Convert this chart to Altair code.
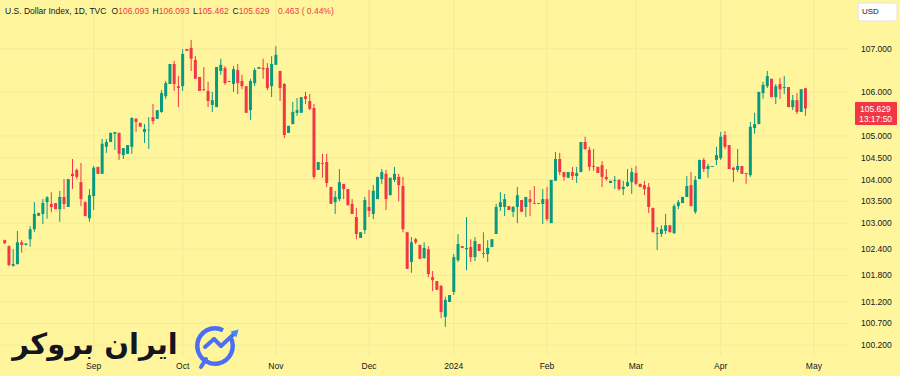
import altair as alt
import pandas as pd

# Daily OHLC of the U.S. Dollar Index, first value is the partly hidden bar at the left edge
opens = [102.61,
 102.47, 102.02, 102.06, 102.56, 102.50, 102.63, 102.86, 103.17, 103.21, 103.48,
 103.44, 103.46, 103.32, 103.60, 103.37, 104.13, 104.22, 103.94, 103.48, 103.11,
 103.62, 104.29, 104.13, 104.75, 104.86, 105.05, 105.07, 104.56, 104.59, 104.75,
 105.39, 105.30, 105.09, 105.13, 105.43, 105.39, 105.55, 105.91, 106.19, 106.65,
 106.14, 106.14, 106.99, 107.02, 106.74, 106.35, 106.07, 106.03, 105.71, 105.66,
 106.49, 106.56, 106.26, 106.19, 106.51, 106.26, 106.14, 105.59, 106.21, 106.54,
 106.56, 106.56, 106.14, 106.63, 106.49, 106.19, 105.07, 105.27, 105.53, 105.53,
 105.91, 105.80, 105.64, 104.22, 104.38, 104.40, 103.83, 103.48, 103.55, 103.90,
 103.78, 103.44, 103.14, 102.66, 102.84, 103.37, 103.21, 103.55, 104.01, 104.13,
 103.64, 103.99, 104.06, 103.85, 102.79, 102.11, 102.63, 102.50, 102.20, 102.40,
 101.76, 101.67, 101.56, 100.85, 101.19, 101.42, 102.15, 102.47, 102.40, 102.45,
 102.22, 102.52, 102.31, 102.29, 102.45, 102.75, 103.37, 103.37, 103.39, 103.26,
 103.37, 103.53, 103.37, 103.55, 103.46, 103.46, 103.44, 103.55, 103.00, 103.97,
 104.47, 104.17, 104.04, 104.17, 104.08, 104.17, 104.86, 104.68, 104.31, 104.29,
 104.33, 104.06, 103.92, 103.97, 103.99, 103.78, 103.85, 103.94, 104.15, 103.90,
 103.87, 103.83, 103.35, 102.75, 102.75, 102.82, 102.95, 102.77, 103.39, 103.46,
 103.60, 103.87, 103.26, 104.01, 104.45, 104.24, 104.29, 104.45, 104.49, 105.02,
 104.79, 104.27, 104.22, 104.31, 104.15, 104.10, 105.18, 105.27, 105.98, 106.14,
 106.31, 105.89, 106.19, 106.10, 106.12, 105.66, 105.82, 105.55, 106.093]

highs = [102.62,
 102.49, 102.40, 102.82, 102.61, 102.54, 102.93, 103.48, 103.24, 103.55, 103.62,
 103.71, 103.46, 103.74, 104.01, 104.01, 104.47, 104.25, 104.38, 103.50, 103.78,
 104.31, 104.29, 104.93, 104.93, 105.07, 105.09, 105.07, 104.72, 104.79, 105.43,
 105.41, 105.30, 105.27, 105.43, 105.73, 105.59, 106.05, 106.26, 106.65, 106.72,
 106.37, 106.99, 106.99, 107.20, 106.83, 106.35, 106.58, 106.24, 106.01, 106.58,
 106.77, 106.60, 106.26, 106.60, 106.65, 106.40, 106.14, 106.31, 106.56, 106.58,
 106.77, 106.67, 106.83, 107.06, 106.49, 106.21, 105.23, 105.78, 105.87, 105.89,
 106.01, 105.96, 105.73, 104.40, 104.59, 104.59, 103.83, 103.74, 104.24, 103.90,
 103.78, 103.55, 103.35, 102.79, 103.60, 103.76, 103.87, 104.06, 104.24, 104.22,
 104.04, 104.29, 104.13, 104.06, 102.79, 102.68, 102.66, 102.50, 102.56, 102.47,
 101.90, 101.67, 101.58, 101.31, 101.35, 102.29, 102.75, 102.47, 103.14, 102.63,
 102.68, 102.52, 102.79, 102.61, 102.63, 103.44, 103.71, 103.67, 103.39, 103.39,
 103.83, 103.53, 103.60, 103.76, 103.85, 103.46, 103.78, 103.83, 103.99, 104.63,
 104.61, 104.17, 104.17, 104.29, 104.29, 104.86, 104.98, 104.75, 104.70, 104.29,
 104.42, 104.24, 103.97, 104.08, 104.01, 103.97, 104.24, 104.27, 104.31, 103.90,
 103.97, 103.92, 103.35, 102.91, 102.95, 103.21, 102.95, 103.44, 103.53, 103.60,
 104.08, 104.17, 104.08, 104.45, 104.49, 104.36, 104.31, 104.75, 105.09, 105.11,
 104.79, 104.29, 104.70, 104.31, 104.15, 105.32, 105.53, 106.01, 106.24, 106.49,
 106.31, 106.19, 106.33, 106.37, 106.12, 105.94, 105.98, 106.07, 106.093]

lows = [102.52,
 102.01, 102.00, 102.05, 102.32, 102.49, 102.46, 102.80, 103.16, 102.98, 103.10,
 103.25, 103.32, 103.03, 103.32, 103.37, 103.78, 104.01, 103.39, 103.16, 103.03,
 103.30, 104.13, 104.13, 104.61, 104.86, 104.68, 104.45, 104.47, 104.59, 104.59,
 105.09, 105.21, 104.84, 104.70, 105.27, 105.39, 105.53, 105.85, 106.19, 106.03,
 105.66, 106.03, 106.95, 106.49, 106.31, 106.03, 106.03, 105.66, 105.55, 105.66,
 106.40, 106.17, 106.24, 106.01, 105.96, 106.07, 105.53, 105.37, 106.14, 106.54,
 106.31, 106.05, 105.89, 106.63, 105.80, 104.95, 105.07, 105.27, 105.46, 105.53,
 105.73, 105.59, 104.01, 104.22, 104.04, 103.83, 103.44, 103.21, 103.50, 103.55,
 103.41, 103.21, 102.63, 102.66, 102.75, 103.14, 103.09, 103.55, 103.90, 103.30,
 103.64, 103.94, 103.50, 102.79, 101.95, 101.86, 102.52, 102.18, 102.18, 101.76,
 101.44, 101.47, 100.82, 100.62, 101.19, 101.35, 102.11, 102.43, 101.92, 102.11,
 102.13, 102.36, 102.20, 102.11, 102.45, 102.75, 103.28, 103.16, 103.30, 103.14,
 103.00, 103.26, 103.14, 103.16, 103.44, 103.44, 102.98, 103.05, 103.00, 103.97,
 104.10, 103.97, 104.04, 103.99, 103.92, 104.17, 104.68, 104.20, 104.20, 104.15,
 103.83, 103.97, 103.92, 103.78, 103.74, 103.64, 103.83, 103.67, 103.87, 103.83,
 103.64, 103.23, 102.79, 102.38, 102.68, 102.75, 102.79, 102.75, 103.32, 103.46,
 103.60, 103.39, 103.21, 104.01, 104.17, 104.04, 104.29, 104.33, 104.45, 104.70,
 104.24, 103.94, 104.17, 104.13, 103.90, 104.06, 105.05, 105.27, 105.85, 106.10,
 105.89, 105.73, 105.85, 105.96, 105.66, 105.59, 105.50, 105.55, 105.462]

closes = [102.54,
 102.04, 102.06, 102.56, 102.50, 102.53, 102.86, 103.21, 103.23, 103.46, 103.59,
 103.37, 103.32, 103.60, 103.44, 104.01, 104.08, 104.06, 103.55, 103.16, 103.64,
 104.27, 104.13, 104.82, 104.86, 105.07, 105.09, 104.59, 104.72, 104.79, 105.41,
 105.32, 105.21, 105.16, 105.14, 105.34, 105.59, 105.98, 106.21, 106.65, 106.19,
 106.10, 106.88, 106.95, 106.77, 106.31, 106.03, 106.05, 105.80, 105.82, 106.58,
 106.63, 106.21, 106.24, 106.53, 106.21, 106.14, 105.53, 106.26, 106.51, 106.58,
 106.53, 106.10, 106.65, 106.86, 106.10, 105.02, 105.23, 105.55, 105.59, 105.89,
 105.85, 105.62, 104.06, 104.40, 104.36, 103.92, 103.44, 103.60, 103.94, 103.78,
 103.41, 103.21, 102.75, 102.79, 103.53, 103.28, 103.74, 104.06, 104.17, 103.55,
 104.04, 104.13, 103.87, 102.86, 101.95, 102.56, 102.56, 102.18, 102.43, 101.83,
 101.69, 101.47, 100.96, 101.24, 101.35, 102.22, 102.52, 102.43, 102.43, 102.22,
 102.59, 102.36, 102.29, 102.43, 102.63, 103.37, 103.48, 103.55, 103.30, 103.37,
 103.64, 103.26, 103.60, 103.48, 103.44, 103.44, 103.55, 103.09, 103.99, 104.47,
 104.17, 104.06, 104.17, 104.08, 104.15, 104.86, 104.70, 104.29, 104.29, 104.15,
 104.06, 104.01, 103.97, 103.99, 103.78, 103.83, 103.94, 104.17, 103.90, 103.83,
 103.78, 103.37, 102.79, 102.77, 102.86, 102.95, 102.79, 103.39, 103.48, 103.60,
 103.85, 103.39, 103.99, 104.45, 104.24, 104.31, 104.31, 104.56, 104.98, 104.75,
 104.24, 104.22, 104.31, 104.13, 104.13, 105.21, 105.27, 106.01, 106.17, 106.37,
 105.89, 106.14, 106.07, 106.12, 105.66, 105.82, 105.55, 106.07, 105.629]

# Month tick positions (bar number of the first trading day of each month) and their labels
month_ticks = [20, 41, 63, 85, 105, 127, 148, 168, 190]
month_labels = ["Sep", "Oct", "Nov", "Dec", "2024", "Feb", "Mar", "Apr", "May"]
price_ticks = [107.0, 106.0, 105.0, 104.5, 104.0, 103.5, 103.0, 102.4, 101.8, 101.2, 100.7, 100.2]

# Header legend
title_text = "U.S. Dollar Index, 1D, TVC"
ohlc_letters = ["O", "H", "L", "C"]
ohlc_values = ["106.093", "106.093", "105.462", "105.629"]
change_text = "0.463 ( 0.44%)"
last_price = "105.629"
countdown = "13:17:50"
currency = "USD"
brand = "ایران بروکر"

UP = "#089981"
DOWN = "#F23645"
BG = "#FFF59D"
GRID = "#F5EB96"
TXT = "#131722"
FONT = "Liberation Sans"

n = len(opens)
df = pd.DataFrame({
    "i": list(range(-1, n - 1)),
    "open": opens, "high": highs, "low": lows, "close": closes,
})
df["dir"] = ["up" if c >= o else "down" for o, c in zip(opens, closes)]
months = pd.DataFrame({"t": month_ticks, "label": month_labels})
prices = pd.DataFrame({"p": price_ticks})

W, H = 850, 356
xscale = alt.Scale(domain=[-0.933, 197.34], nice=False, zero=False)
yscale = alt.Scale(domain=[99.952, 108.117], nice=False, zero=False)
color = alt.Color("dir:N", scale=alt.Scale(domain=["up", "down"], range=[UP, DOWN]), legend=None)

# faint grid
vgrid = alt.Chart(months).mark_rule(color=GRID, strokeWidth=1).encode(
    x=alt.X("t:Q", scale=xscale, axis=None), y=alt.value(0), y2=alt.value(H))
hgrid = alt.Chart(prices).mark_rule(color=GRID, strokeWidth=1).encode(
    y=alt.Y("p:Q", scale=yscale, axis=None), x=alt.value(0), x2=alt.value(W))

base = alt.Chart(df)
wicks = base.mark_rule(strokeWidth=1).encode(
    x=alt.X("i:Q", scale=xscale, axis=None),
    y=alt.Y("low:Q", scale=yscale, axis=None),
    y2="high:Q",
    color=color,
)
bodies = base.mark_bar(size=3).encode(
    x=alt.X("i:Q", scale=xscale, axis=None),
    y=alt.Y("open:Q", scale=yscale, axis=None),
    y2="close:Q",
    color=color,
)

# axis labels
month_text = alt.Chart(months).mark_text(font=FONT, fontSize=8.5, color=TXT, baseline="middle", align="center").encode(
    x=alt.X("t:Q", scale=xscale, axis=None), y=alt.value(366), text="label:N")
price_text = alt.Chart(prices).mark_text(font=FONT, fontSize=8.5, color=TXT, baseline="middle", align="left").encode(
    y=alt.Y("p:Q", scale=yscale, axis=None), x=alt.value(861), text=alt.Text("p:Q", format=".3f"))

one = alt.Data(values=[{"k": 1}])

def txt(text, x, y, col=TXT, size=8.5, align="left", weight="normal", font=FONT):
    return alt.Chart(one).mark_text(align=align, baseline="middle", fontSize=size, font=font,
                                    fontWeight=weight, color=col).encode(
        x=alt.value(x), y=alt.value(y), text=alt.value(text))

layers = [vgrid, hgrid, wicks, bodies, month_text, price_text]

# header
layers.append(txt(title_text, 5, 11))
letter_x = [111.5, 152.5, 193, 232.5]
letter_w = [6.8, 6.3, 4.9, 6.3]
for letter, val, xl, lw in zip(ohlc_letters, ohlc_values, letter_x, letter_w):
    layers.append(txt(letter, xl, 11))
    layers.append(txt(val, xl + lw, 11, col=DOWN))
layers.append(txt(change_text, 278, 11, col=DOWN))

# currency box
layers.append(alt.Chart(one).mark_rect(fill="white", stroke="#E0E3EB", cornerRadius=3).encode(
    x=alt.value(858), x2=alt.value(897), y=alt.value(3), y2=alt.value(21)))
layers.append(txt(currency, 862, 12, size=8))

# last price label
layers.append(alt.Chart(one).mark_rect(fill=DOWN, cornerRadius=1).encode(
    x=alt.value(855), x2=alt.value(897), y=alt.value(102), y2=alt.value(125)))
layers.append(txt(last_price, 860, 109, col="white"))
layers.append(txt(countdown, 859, 118.5, col="white"))

# watermark logo
layers.append(txt(brand, 95, 345, col="#15151F", size=29, align="center", weight="bold", font="DejaVu Sans"))
BLUE = "#4C6EF5"
layers.append(alt.Chart(one).mark_arc(theta=1.05, theta2=6.75, radius=20, radius2=15.5, color=BLUE).encode(
    x=alt.value(215), y=alt.value(346)))
for (x1, y1, x2, y2) in [(205, 347, 214, 339), (214, 339, 221, 346), (221, 346, 235, 333), (206, 359, 201, 367)]:
    layers.append(alt.Chart(one).mark_rule(strokeWidth=4, strokeCap="round", color=BLUE).encode(
        x=alt.value(x1), x2=alt.value(x2), y=alt.value(y1), y2=alt.value(y2)))
layers.append(alt.Chart(one).mark_point(shape="triangle-up", filled=True, size=70, angle=45, color="#3F8CF7", opacity=1).encode(
    x=alt.value(236), y=alt.value(332)))

chart = alt.layer(*layers).properties(
    width=W, height=H,
    padding={"left": 0, "top": 0, "right": 50, "bottom": 20},
    autosize=alt.AutoSizeParams(type="none"),
).configure(background=BG).configure_view(strokeWidth=0)

chart.save("out.html", embed_options={"renderer": "svg", "actions": False})
